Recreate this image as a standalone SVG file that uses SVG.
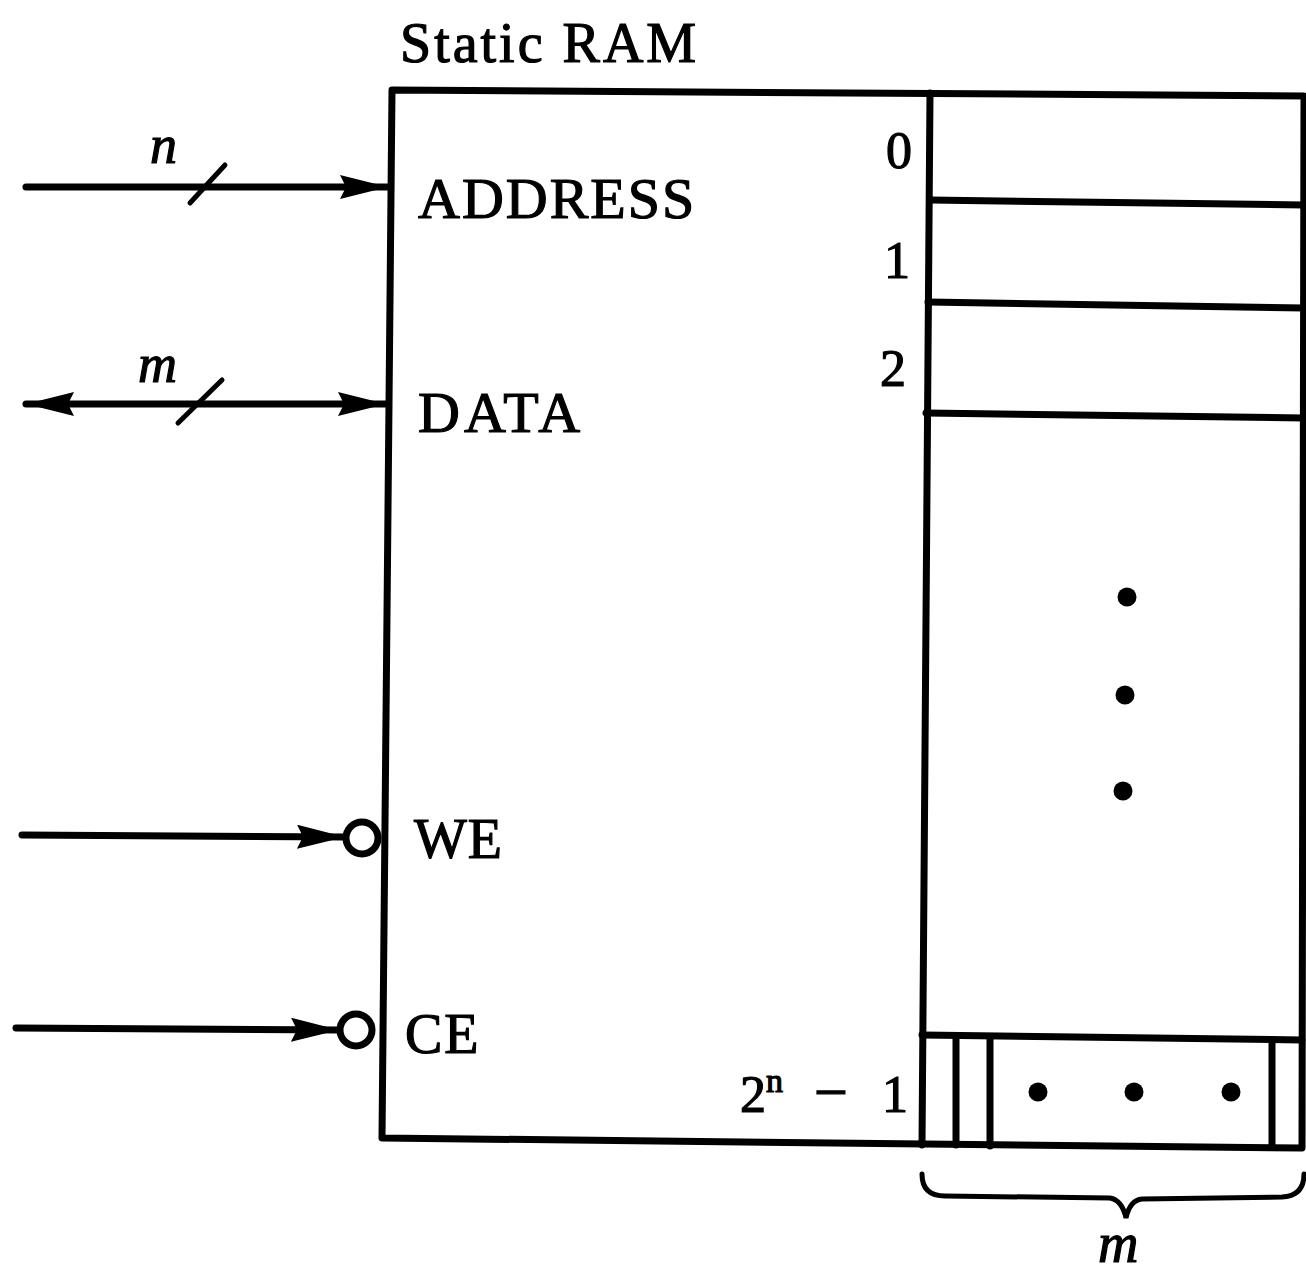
<svg xmlns="http://www.w3.org/2000/svg" width="1306" height="1275" viewBox="0 0 1306 1275">
<style>
.ln{stroke:#000;stroke-width:7;fill:none;stroke-linecap:round;stroke-linejoin:round}
.thin{stroke:#000;stroke-width:5;fill:none;stroke-linecap:round}
.t{font-family:"Liberation Serif","Times New Roman",serif;fill:#000;stroke:#000;stroke-width:1.2}
.it{font-family:"Liberation Serif","Times New Roman",serif;font-style:italic;fill:#000;stroke:#000;stroke-width:1.2}
.dot{fill:#000}
</style>
<defs>
<marker id="ah" viewBox="0 0 48 24" refX="48" refY="12" markerWidth="48" markerHeight="24" markerUnits="userSpaceOnUse" orient="auto-start-reverse">
<path d="M0,0 L48,12 L0,24 L6,12 Z" fill="#000"/>
</marker>
</defs>
<rect width="1306" height="1275" fill="#fff"/>
<text class="t" x="400" y="62" font-size="56" letter-spacing="3">Static RAM</text>
<g id="ram">
<path class="ln" d="M392,90 L1304,96 L1302,1148 L382,1138 Z"/>
<path class="ln" d="M930,93 L922,1145"/>
<text class="t" x="418" y="218" font-size="58" letter-spacing="2">ADDRESS</text>
<text class="t" x="418" y="432" font-size="58" letter-spacing="4">DATA</text>
<text class="t" x="414" y="858" font-size="56" letter-spacing="1">WE</text>
<text class="t" x="405" y="1053" font-size="56" letter-spacing="2">CE</text>
</g>
<g id="memory">
<path class="ln" d="M930,200 L1304,205"/>
<path class="ln" d="M928,302 L1304,308"/>
<path class="ln" d="M926,413 L1304,418"/>
<path class="ln" d="M922,1035 L1302,1040"/>
<path class="ln" d="M956,1038 L956,1145"/>
<path class="ln" d="M990,1038 L990,1146"/>
<path class="ln" d="M1272,1040 L1272,1147"/>
<text class="t" x="886" y="168" font-size="52">0</text>
<text class="t" x="884" y="278" font-size="52">1</text>
<text class="t" x="880" y="386" font-size="52">2</text>
<text class="t" x="740" y="1112" font-size="52">2<tspan font-size="34" dy="-20">n</tspan><tspan x="814" dy="20" font-size="60">−</tspan><tspan x="882">1</tspan></text>
<circle class="dot" cx="1127" cy="597" r="9.5"/>
<circle class="dot" cx="1125" cy="695" r="9.5"/>
<circle class="dot" cx="1123" cy="791" r="9.5"/>
<circle class="dot" cx="1038" cy="1092" r="9.5"/>
<circle class="dot" cx="1134" cy="1092" r="9.5"/>
<circle class="dot" cx="1231" cy="1092" r="9.5"/>
<path class="thin" d="M922,1174 Q922,1196 945,1196 L1110,1198 Q1122,1200 1126,1218 Q1130,1200 1142,1199 L1282,1197 Q1304,1196 1304,1174"/>
<text class="it" x="1098" y="1262" font-size="56">m</text>
</g>
<g id="connectors">
<path class="ln" d="M26,187 L388,187" marker-end="url(#ah)"/>
<path class="thin" d="M190,203 L225,165"/>
<text class="it" x="150" y="163" font-size="54">n</text>
<path class="ln" d="M26,404 L386,404" marker-start="url(#ah)" marker-end="url(#ah)"/>
<path class="thin" d="M178,423 L222,380"/>
<text class="it" x="138" y="382" font-size="54">m</text>
<path class="ln" d="M22,835 L345,837" marker-end="url(#ah)"/>
<circle class="ln" cx="362" cy="838" r="16"/>
<path class="ln" d="M16,1028 L339,1030" marker-end="url(#ah)"/>
<circle class="ln" cx="356" cy="1030" r="16"/>
</g>
</svg>
